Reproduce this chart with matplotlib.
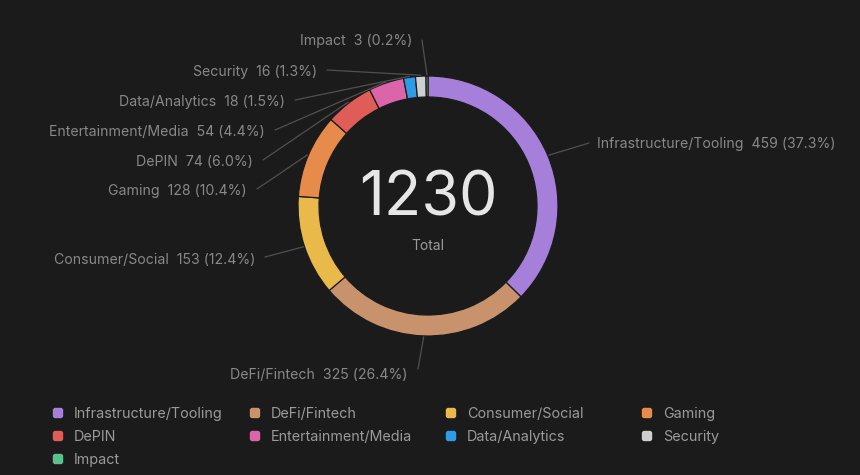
import matplotlib
matplotlib.use("Agg")
import matplotlib.pyplot as plt
from matplotlib.patches import Wedge, FancyBboxPatch
import numpy as np

categories = ["Infrastructure/Tooling", "DeFi/Fintech", "Consumer/Social", "Gaming",
              "DePIN", "Entertainment/Media", "Data/Analytics", "Security", "Impact"]
values = [459, 325, 153, 128, 74, 54, 18, 16, 3]
colors = ["#a67fdb", "#c8926c", "#e9b949", "#e78b4c", "#e05c57",
          "#dc64a8", "#2d9be6", "#cfcfcf", "#5cbf8f"]
total_label = "Total"

# layout: leader line end points (image pixels), text offsets, text side
label_ends = [(589, 143), (418, 369), (265, 257), (257, 189), (263, 160),
              (275, 130), (295, 100), (327, 70), (422, 40)]
label_dy = [1, 6, 3, 2, 2, 2, 2, 2, 1]
label_right = [True, False, False, False, False, False, False, False, False]

BG = "#1b1b1b"
W, H = 860, 475
fig = plt.figure(figsize=(W / 100, H / 100), dpi=100, facecolor=BG)
ax = fig.add_axes([0, 0, 1, 1])
ax.set_facecolor(BG)
ax.set_xlim(0, W)
ax.set_ylim(H, 0)
ax.axis("off")

font = ["Inter", "DejaVu Sans"]
cx, cy, R, RW = 428, 206, 130, 21
tot = sum(values)
cum = np.concatenate([[0], np.cumsum(values)]) / tot
for i, v in enumerate(values):
    t1 = -90 + cum[i] * 360
    t2 = -90 + cum[i + 1] * 360
    ax.add_patch(Wedge((cx, cy), R, t1, t2, width=RW, facecolor=colors[i],
                       edgecolor=BG, linewidth=0.9))
    mid = np.deg2rad((t1 + t2) / 2)
    sx, sy = cx + (R + 1) * np.cos(mid), cy + (R + 1) * np.sin(mid)
    ex, ey = label_ends[i]
    ax.plot([sx, ex], [sy, ey], color="#505050", lw=0.9, solid_capstyle="round")
    pct = v / tot * 100
    txt = f"{categories[i]}  {v} ({pct:.1f}%)"
    if label_right[i]:
        ax.text(ex + 8, ey + label_dy[i], txt, ha="left", va="center", color="#888888",
                fontsize=10.15, family=font)
    else:
        ax.text(ex - 10, ey + label_dy[i], txt, ha="right", va="center", color="#888888",
                fontsize=10.15, family=font)

ax.text(cx, 199, f"{tot}", ha="center", va="center", color="#e6e6e6",
        fontsize=44, family=font)
ax.text(cx, 246, total_label, ha="center", va="center", color="#9a9a9a",
        fontsize=10, family=font)

# legend
col_x = [58, 255, 451, 647]
row_y = [413, 436, 459]
for i, c in enumerate(categories):
    x = col_x[i % 4]
    y = row_y[i // 4]
    ax.add_patch(FancyBboxPatch((x - 4, y - 4), 8, 8,
                                boxstyle="round,pad=1.2,rounding_size=2.5",
                                facecolor=colors[i], edgecolor="none"))
    ax.text(x + 16, y + 1, c, ha="left", va="center", color="#9a9a9a",
            fontsize=10.35, family=font)

fig.savefig("out.png", dpi=100, facecolor=BG)
